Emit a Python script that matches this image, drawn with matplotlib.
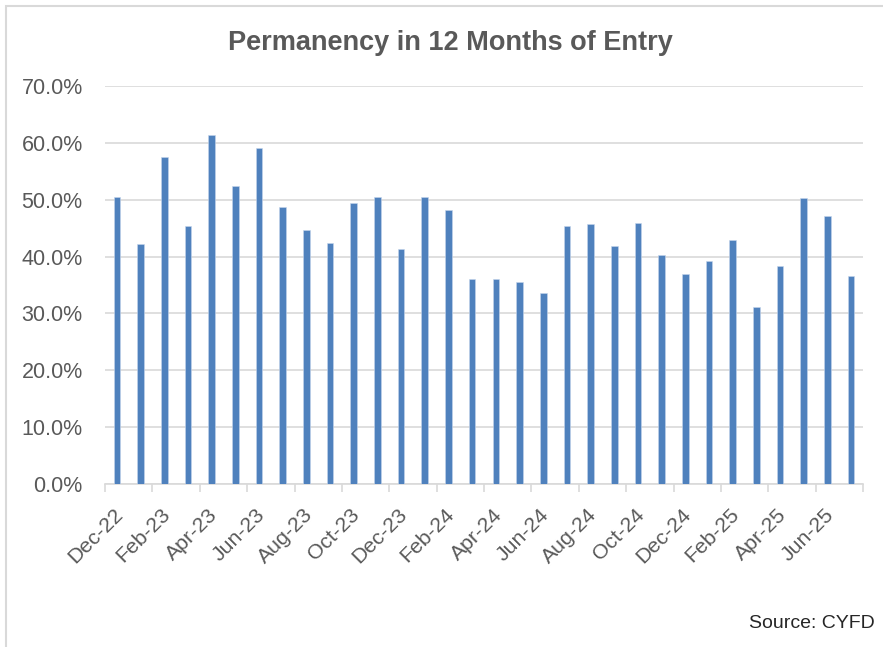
import matplotlib.pyplot as plt
from matplotlib.ticker import FuncFormatter, FixedLocator
from matplotlib.patches import Rectangle

plt.rcParams['font.family'] = ['Liberation Sans', 'DejaVu Sans']

# Datos
meses = ["Dec-22", "Jan-23", "Feb-23", "Mar-23", "Apr-23", "May-23", "Jun-23", "Jul-23",
         "Aug-23", "Sep-23", "Oct-23", "Nov-23", "Dec-23", "Jan-24", "Feb-24", "Mar-24",
         "Apr-24", "May-24", "Jun-24", "Jul-24", "Aug-24", "Sep-24", "Oct-24", "Nov-24",
         "Dec-24", "Jan-25", "Feb-25", "Mar-25", "Apr-25", "May-25", "Jun-25", "Jul-25"]
permanencia = [0.504, 0.422, 0.576, 0.453, 0.613, 0.524, 0.591, 0.487,
               0.446, 0.424, 0.494, 0.504, 0.413, 0.504, 0.482, 0.361,
               0.361, 0.355, 0.336, 0.453, 0.457, 0.419, 0.459, 0.402,
               0.370, 0.392, 0.430, 0.311, 0.384, 0.503, 0.472, 0.365]

gris_texto = "#595959"
gris_linea = "#D9D9D9"

fig = plt.figure(figsize=(8.83, 6.47), dpi=100)
ax = fig.add_axes([105 / 883, 1 - 484 / 647, (863 - 105) / 883, (484 - 86) / 647])

# Borde del gráfico (solo arriba e izquierda visibles)
fig.patches.append(Rectangle((6 / 883, -0.1), 1.2, 1 - 6 / 647 + 0.1, transform=fig.transFigure,
                             fill=False, edgecolor=gris_linea, linewidth=1.5))

x = list(range(len(meses)))
ax.bar(x, permanencia, width=0.28, color="#4F81BD", edgecolor="#C5D6EC", linewidth=0.4, zorder=3)

ax.set_xlim(-0.5, len(meses) - 0.5)
ax.set_ylim(0, 0.7)
ax.set_yticks([i / 10 for i in range(8)])
ax.yaxis.set_major_formatter(FuncFormatter(lambda v, p: f"{v * 100:.1f}%"))
ax.grid(axis="y", color=gris_linea, linewidth=1.2, zorder=0)

for lado in ["top", "right", "left"]:
    ax.spines[lado].set_visible(False)
ax.spines["bottom"].set_color(gris_linea)
ax.spines["bottom"].set_linewidth(1.2)

# Etiquetas cada dos meses, marcas en los bordes de categoría
ax.set_xticks([i - 0.15 for i in x[::2]])
ax.set_xticklabels(meses[::2], rotation=45, ha="right", rotation_mode="anchor",
                   fontsize=15.3, color=gris_texto)
ax.tick_params(axis="x", length=0, pad=15)
ax.xaxis.set_minor_locator(FixedLocator([i - 0.5 for i in range(0, len(meses) + 1, 2)]))
ax.tick_params(axis="x", which="minor", length=6, color=gris_linea, width=1.2)
ax.tick_params(axis="y", length=0, labelsize=15.5, labelcolor=gris_texto, pad=16)

fig.text(450 / 883, 1 - 43 / 647, "Permanency in 12 Months of Entry", ha="center", va="center",
         fontsize=19.5, fontweight="bold", color=gris_texto)
fig.text(875 / 883, 1 - 623 / 647, "Source: CYFD", ha="right", va="center",
         fontsize=14, color="#262626")

plt.savefig("out.png", dpi=100)
